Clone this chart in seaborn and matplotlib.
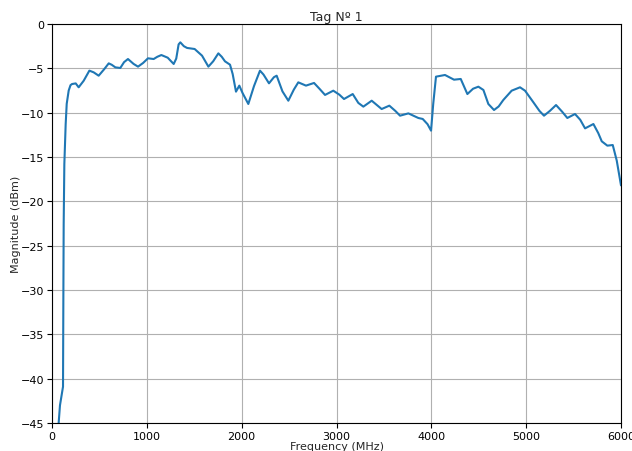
import matplotlib
matplotlib.use("Agg")
import matplotlib.pyplot as plt
import seaborn as sns
import pandas as pd

# Measured magnitude response of tag no. 1
freq_mhz = [
    70, 84, 116, 120, 123, 130, 144, 155, 176, 195, 211, 250, 281, 334, 394, 439, 492,
    550, 598, 630, 668, 720, 760, 801, 860, 907, 960, 1012, 1072, 1110, 1153, 1220,
    1283, 1310, 1335, 1353, 1390, 1424, 1504, 1582, 1649, 1700, 1754, 1790, 1824,
    1877, 1905, 1940, 1975, 2010, 2070, 2130, 2193, 2230, 2288, 2340, 2369, 2430,
    2492, 2550, 2597, 2678, 2763, 2820, 2879, 2966, 3030, 3079, 3171, 3230, 3283,
    3371, 3476, 3557, 3620, 3670, 3758, 3863, 3909, 3960, 3997, 4020, 4049, 4144,
    4239, 4310, 4380, 4440, 4496, 4549, 4601, 4661, 4710, 4759, 4847, 4935, 4988,
    5076, 5140, 5188, 5250, 5315, 5380, 5434, 5515, 5570, 5621, 5709, 5760, 5797,
    5856, 5913, 5955, 6000,
]
magnitude_dbm = [
    -45.0, -43.0, -40.9, -30.0, -22.6, -15.8, -11.3, -9.0, -7.5, -6.9, -6.77, -6.7,
    -7.14, -6.4, -5.26, -5.45, -5.83, -5.1, -4.44, -4.6, -4.89, -4.96, -4.3, -3.95,
    -4.5, -4.81, -4.4, -3.87, -3.95, -3.7, -3.5, -3.8, -4.51, -3.9, -2.3, -2.07,
    -2.5, -2.7, -2.82, -3.57, -4.81, -4.2, -3.31, -3.7, -4.21, -4.59, -5.64, -7.63,
    -6.95, -7.8, -9.02, -7.0, -5.26, -5.7, -6.69, -6.0, -5.83, -7.6, -8.65, -7.4,
    -6.58, -6.95, -6.65, -7.3, -8.0, -7.52, -7.97, -8.46, -7.9, -8.9, -9.32, -8.65,
    -9.59, -9.21, -9.8, -10.34, -10.08, -10.6, -10.71, -11.3, -12.03, -9.0, -5.94,
    -5.75, -6.28, -6.2, -7.9, -7.3, -7.07, -7.44, -9.02, -9.7, -9.3, -8.57, -7.52,
    -7.14, -7.52, -8.83, -9.8, -10.34, -9.8, -9.14, -9.9, -10.6, -10.15, -10.8,
    -11.77, -11.28, -12.3, -13.23, -13.72, -13.65, -15.4, -18.2,
]

df = pd.DataFrame({"Frequency (MHz)": freq_mhz, "Magnitude (dBm)": magnitude_dbm})

sns.set_style("ticks")
plt.rcParams["font.family"] = ["DejaVu Sans"]
plt.rcParams["xtick.labelsize"] = 8
plt.rcParams["ytick.labelsize"] = 8
plt.rcParams["axes.labelsize"] = 8

fig, ax = plt.subplots(figsize=(6.32, 4.52), dpi=100)
fig.subplots_adjust(left=0.0823, right=0.9826, top=0.9447, bottom=0.0619)

sns.lineplot(data=df, x="Frequency (MHz)", y="Magnitude (dBm)", ax=ax,
             color="#1f77b4", linewidth=1.5, sort=False)

ax.set_xlim(0, 6000)
ax.set_ylim(-45, 0)
ax.set_xticks(range(0, 6001, 1000))
ax.set_yticks(range(-45, 1, 5))
ax.grid(True, color="#b0b0b0", linewidth=0.8)
ax.set_axisbelow(True)
for side in ("top", "right", "bottom", "left"):
    ax.spines[side].set_visible(True)
    ax.spines[side].set_color("black")
    ax.spines[side].set_linewidth(0.8)
ax.tick_params(direction="out", length=3.5, width=0.8, colors="black", pad=2)
ax.set_title("Tag Nº 1", fontsize=9, pad=3)
ax.xaxis.set_label_coords(0.5, -0.046)
ax.yaxis.set_label_coords(-0.055, 0.5)

fig.savefig("out.png", dpi=100)
